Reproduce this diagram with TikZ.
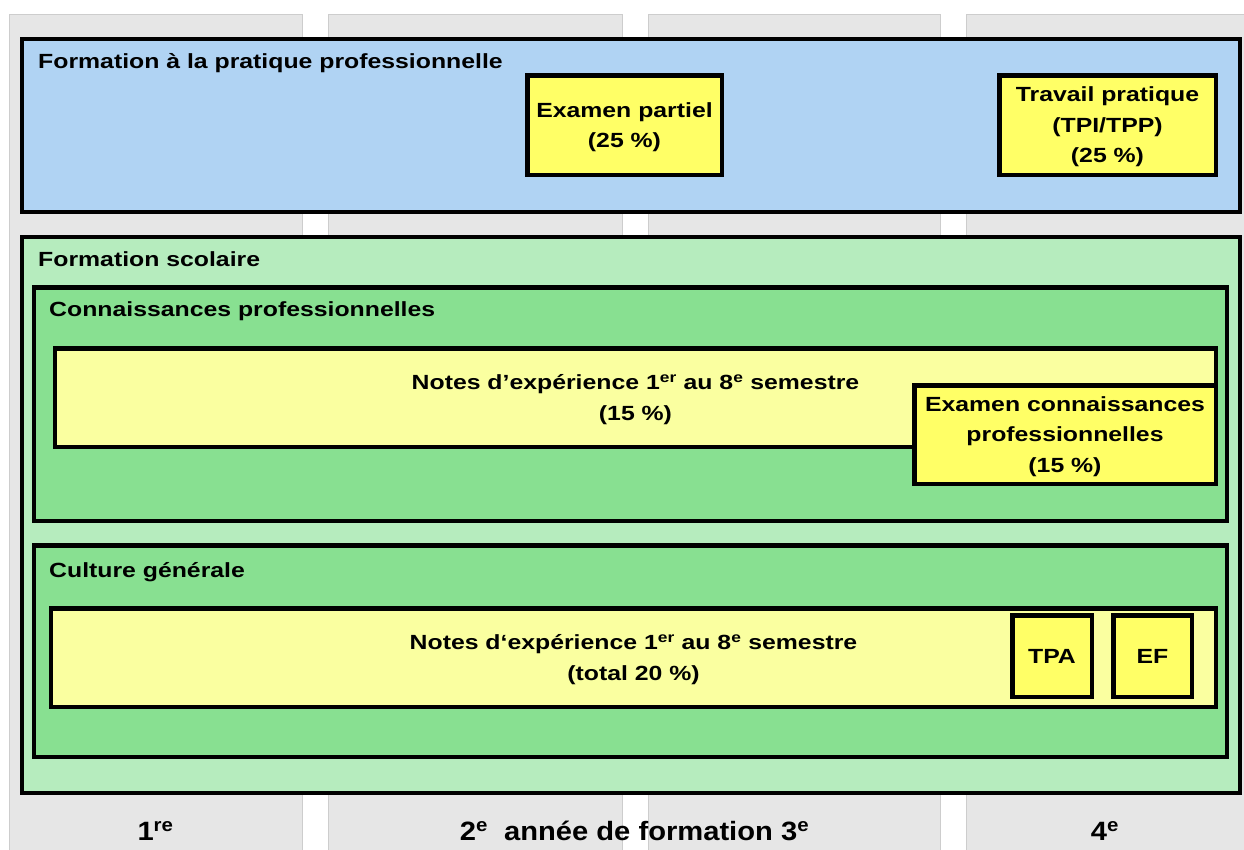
\documentclass[tikz,border=0pt]{standalone}
\usepackage{fontspec}
\setmainfont{Liberation Sans}[FakeStretch=1.21]
\newfontfamily\yearfont{Liberation Sans}[FakeStretch=1.1]
\definecolor{colgray}{HTML}{E6E6E6}
\definecolor{colgrayedge}{HTML}{CDCDCD}
\definecolor{bluefill}{HTML}{B0D3F3}
\definecolor{lightgreen}{HTML}{B6ECBE}
\definecolor{midgreen}{HTML}{88E091}
\definecolor{paleyellow}{HTML}{FAFFA0}
\definecolor{brightyellow}{HTML}{FFFF66}
\tikzset{
  frame/.style={draw=black, line width=4.5bp, rectangle, inner sep=0pt},
  bluebox/.style={frame, fill=bluefill},
  outerbox/.style={frame, fill=lightgreen},
  midbox/.style={frame, fill=midgreen},
  notebox/.style={frame, fill=paleyellow, align=center, text depth=0pt, font=\bfseries\fontsize{20.5bp}{30.5bp}\selectfont},
  exambox/.style={frame, fill=brightyellow, align=center, text depth=0pt, font=\bfseries\fontsize{20.5bp}{30.5bp}\selectfont},
  title/.style={anchor=base west, inner sep=0pt, font=\bfseries\fontsize{20.5bp}{30bp}\selectfont},
  yearlabel/.style={anchor=base, inner sep=0pt, font=\yearfont\bfseries\fontsize{26.5bp}{30bp}\selectfont},
  column/.style={fill=colgray, draw=colgrayedge, line width=0.8bp}
}
\begin{document}
\begin{tikzpicture}[x=1bp,y=-1bp]
\useasboundingbox (0,0) rectangle (1244,850);
% year columns
\path[column] (9,14) rectangle (302,850);
\path[column] (328,14) rectangle (622,850);
\path[column] (648,14) rectangle (940,850);
\path[column] (966,14) rectangle (1244,850);

% Formation pratique
\node[bluebox, minimum width=1217.5bp, minimum height=172.5bp] (prat) at (631,125.5) {};
\node[title] (pratT) at (38,68) {Formation à la pratique professionnelle};
\node[exambox, minimum width=194.5bp, minimum height=99.5bp] (exp) at (624.5,125) {Examen partiel\\(25~\%)};
\node[exambox, minimum width=216.5bp, minimum height=99.5bp] (tp) at (1107.5,125) {Travail pratique\\(TPI/TPP)\\(25~\%)};

% Formation scolaire
\node[outerbox, minimum width=1217.5bp, minimum height=555.5bp] (scol) at (631,515) {};
\node[title] (scolT) at (38,266) {Formation scolaire};

\node[midbox, minimum width=1192.5bp, minimum height=233.5bp] (conn) at (630.5,404) {};
\node[title] (connT) at (49,316) {Connaissances professionnelles};
\node[notebox, minimum width=1160.5bp, minimum height=98.5bp] (notes1) at (635.5,397.5)
  {Notes d’expérience 1\textsuperscript{er} au 8\textsuperscript{e} semestre\\(15~\%)};
\node[exambox, minimum width=301.5bp, minimum height=98.5bp] (excp) at (1065,434.5)
  {Examen connaissances\\professionnelles\\(15~\%)};

\node[midbox, minimum width=1192.5bp, minimum height=211.5bp] (cult) at (630.5,651) {};
\node[title] (cultT) at (49,577) {Culture générale};
\node[notebox, minimum width=1164.5bp, minimum height=98.5bp] (notes2) at (633.5,657.5)
  {Notes d‘expérience 1\textsuperscript{er} au 8\textsuperscript{e} semestre\\(total 20~\%)};
\node[exambox, minimum width=79.5bp, minimum height=81.5bp] (tpa) at (1052,656) {TPA};
\node[exambox, minimum width=78.5bp, minimum height=81.5bp] (ef) at (1152.5,656) {EF};

% year labels
\node[yearlabel] (y1) at (155.5,840) {1\textsuperscript{re}};
\node[yearlabel] (y23) at (634.5,840) {2\textsuperscript{e}\ \ année de formation 3\textsuperscript{e}};
\node[yearlabel] (y4) at (1105,840) {4\textsuperscript{e}};
\end{tikzpicture}
\end{document}
